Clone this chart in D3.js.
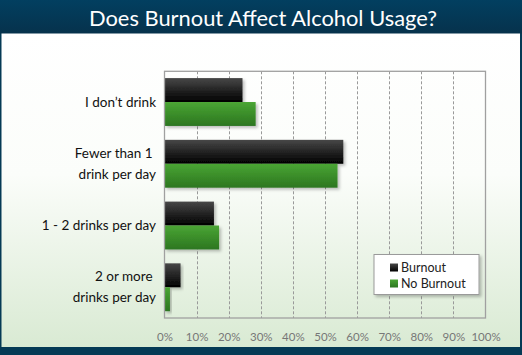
<!DOCTYPE html>
<html><head><meta charset="utf-8">
<script src="https://cdn.jsdelivr.net/npm/d3@7"></script>
<style>body{margin:0;padding:0;overflow:hidden;background:#fff}svg{display:block}</style>
</head><body>
<script>
const categories = [["I don\u2019t drink"], ["Fewer than 1 ", "drink per day"], ["1 - 2 drinks per day"], ["2 or more ", "drinks per day"]];
const seriesNames = ["Burnout", "No Burnout"];
const burnout = [24.3, 55.7, 15.4, 5.0];
const noBurnout = [28.4, 53.9, 17.0, 1.7];
const tickValues = [0,10,20,30,40,50,60,70,80,90,100];
const title = "Does Burnout Affect Alcohol Usage?";

const W = 522, H = 355;
const svg = d3.select("body").append("svg").attr("width", W).attr("height", H);
const defs = svg.append("defs");

const bg = defs.append("linearGradient").attr("id","bg").attr("x1",0).attr("y1",0).attr("x2",0).attr("y2",1);
bg.append("stop").attr("offset","0").attr("stop-color","#ffffff");
bg.append("stop").attr("offset","0.45").attr("stop-color","#fbfdfa");
bg.append("stop").attr("offset","1").attr("stop-color","#d9ead3");
const tg = defs.append("linearGradient").attr("id","tg").attr("x1",0).attr("y1",0).attr("x2",0).attr("y2",1);
tg.append("stop").attr("offset","0").attr("stop-color","#023f60");
tg.append("stop").attr("offset","1").attr("stop-color","#06324c");
const gb = defs.append("linearGradient").attr("id","gb").attr("x1",0).attr("y1",0).attr("x2",0).attr("y2",1);
gb.append("stop").attr("offset","0").attr("stop-color","#474747");
gb.append("stop").attr("offset","1").attr("stop-color","#000000");
const gg = defs.append("linearGradient").attr("id","gg").attr("x1",0).attr("y1",0).attr("x2",0).attr("y2",1);
gg.append("stop").attr("offset","0").attr("stop-color","#4aa534");
gg.append("stop").attr("offset","1").attr("stop-color","#2c7620");
const sh = defs.append("filter").attr("id","sh").attr("x","-10%").attr("y","-10%").attr("width","130%").attr("height","140%");
sh.append("feDropShadow").attr("dx",2).attr("dy",2).attr("stdDeviation",1.5).attr("flood-color","#000").attr("flood-opacity",0.25);

// frame
svg.append("rect").attr("x",0).attr("y",0).attr("width",W).attr("height",H).attr("fill","#053a55");
svg.append("rect").attr("x",1.5).attr("y",33).attr("width",W-3.5).attr("height",314).attr("fill","url(#bg)");
svg.append("rect").attr("x",0).attr("y",0).attr("width",W).attr("height",33.5).attr("fill","url(#tg)");
svg.append("text").attr("x",263).attr("y",26).attr("text-anchor","middle")
  .attr("font-family","Lato, 'Open Sans', sans-serif").attr("font-size",21).attr("fill","#fff")
  .attr("textLength",348).attr("lengthAdjust","spacingAndGlyphs").text(title);

const m = {l:164.5, r:485.5, t:71.3, b:318};
const x = d3.scaleLinear().domain([0,100]).range([m.l, m.r]);
const y0 = d3.scaleBand().domain(d3.range(categories.length)).range([m.t, m.b]).paddingInner(0.225).paddingOuter(0.11);
const y1 = d3.scaleBand().domain(seriesNames).range([0, y0.bandwidth()]);

// grid
svg.append("g").selectAll("line").data(tickValues.slice(1,-1)).join("line")
  .attr("x1",d=>Math.round(x(d))+0.5).attr("x2",d=>Math.round(x(d))+0.5)
  .attr("y1",m.t).attr("y2",m.b).attr("stroke","#999").attr("stroke-dasharray","3,2").attr("stroke-width",1);

// bars
const data = categories.map((c,i)=>({i, vals:[{s:seriesNames[0],v:burnout[i]},{s:seriesNames[1],v:noBurnout[i]}]}));
const g = svg.append("g");
g.selectAll("g").data(data).join("g").attr("transform",d=>`translate(0,${y0(d.i)})`)
  .selectAll("rect").data(d=>d.vals).join("rect")
  .attr("x",x(0)).attr("y",d=>y1(d.s)).attr("height",y1.bandwidth())
  .attr("width",d=>x(d.v)-x(0))
  .attr("fill",d=>d.s===seriesNames[0]?"url(#gb)":"url(#gg)")
  .attr("filter","url(#sh)");

// plot border
svg.append("rect").attr("x",m.l).attr("y",m.t).attr("width",m.r-m.l).attr("height",m.b-m.t)
  .attr("fill","none").attr("stroke","#a0a0a0").attr("stroke-width",1.3);

// x axis labels
const xa = svg.append("g").attr("transform",`translate(0,${m.b})`)
  .call(d3.axisBottom(x).tickValues(tickValues).tickFormat(d=>d+"%").tickSize(0).tickPadding(15));
xa.select(".domain").remove();
xa.selectAll("text").attr("font-family","Lato, 'Open Sans', sans-serif").attr("font-size",11.5).attr("fill","#777");

// category labels
const cl = svg.append("g");
categories.forEach((lines,i)=>{
  const cy = y0(i)+y0.bandwidth()/2;
  const lh = 21;
  const t = cl.append("text").attr("text-anchor","end").attr("font-family","Lato, 'Open Sans', sans-serif")
    .attr("font-size",13.5).attr("fill","#111");
  lines.forEach((ln,k)=>{
    t.append("tspan").attr("x",156).attr("y", cy + 4.5 + (k-(lines.length-1)/2)*lh).attr("xml:space","preserve").text(ln);
  });
});

// legend
const lg = svg.append("g").attr("transform","translate(374,254.5)");
lg.append("rect").attr("width",105).attr("height",40).attr("fill","#fff").attr("stroke","#9a9a9a").attr("stroke-width",1).attr("filter","url(#sh)");
seriesNames.forEach((s,k)=>{
  lg.append("rect").attr("x",16).attr("y",9+k*16).attr("width",8).attr("height",8)
    .attr("fill",k===0?"url(#gb)":"url(#gg)");
  lg.append("text").attr("x",27).attr("y",17+k*16).attr("font-family","Lato, 'Open Sans', sans-serif")
    .attr("font-size",12.5).attr("fill","#222").text(s);
});
</script>
</body></html>
